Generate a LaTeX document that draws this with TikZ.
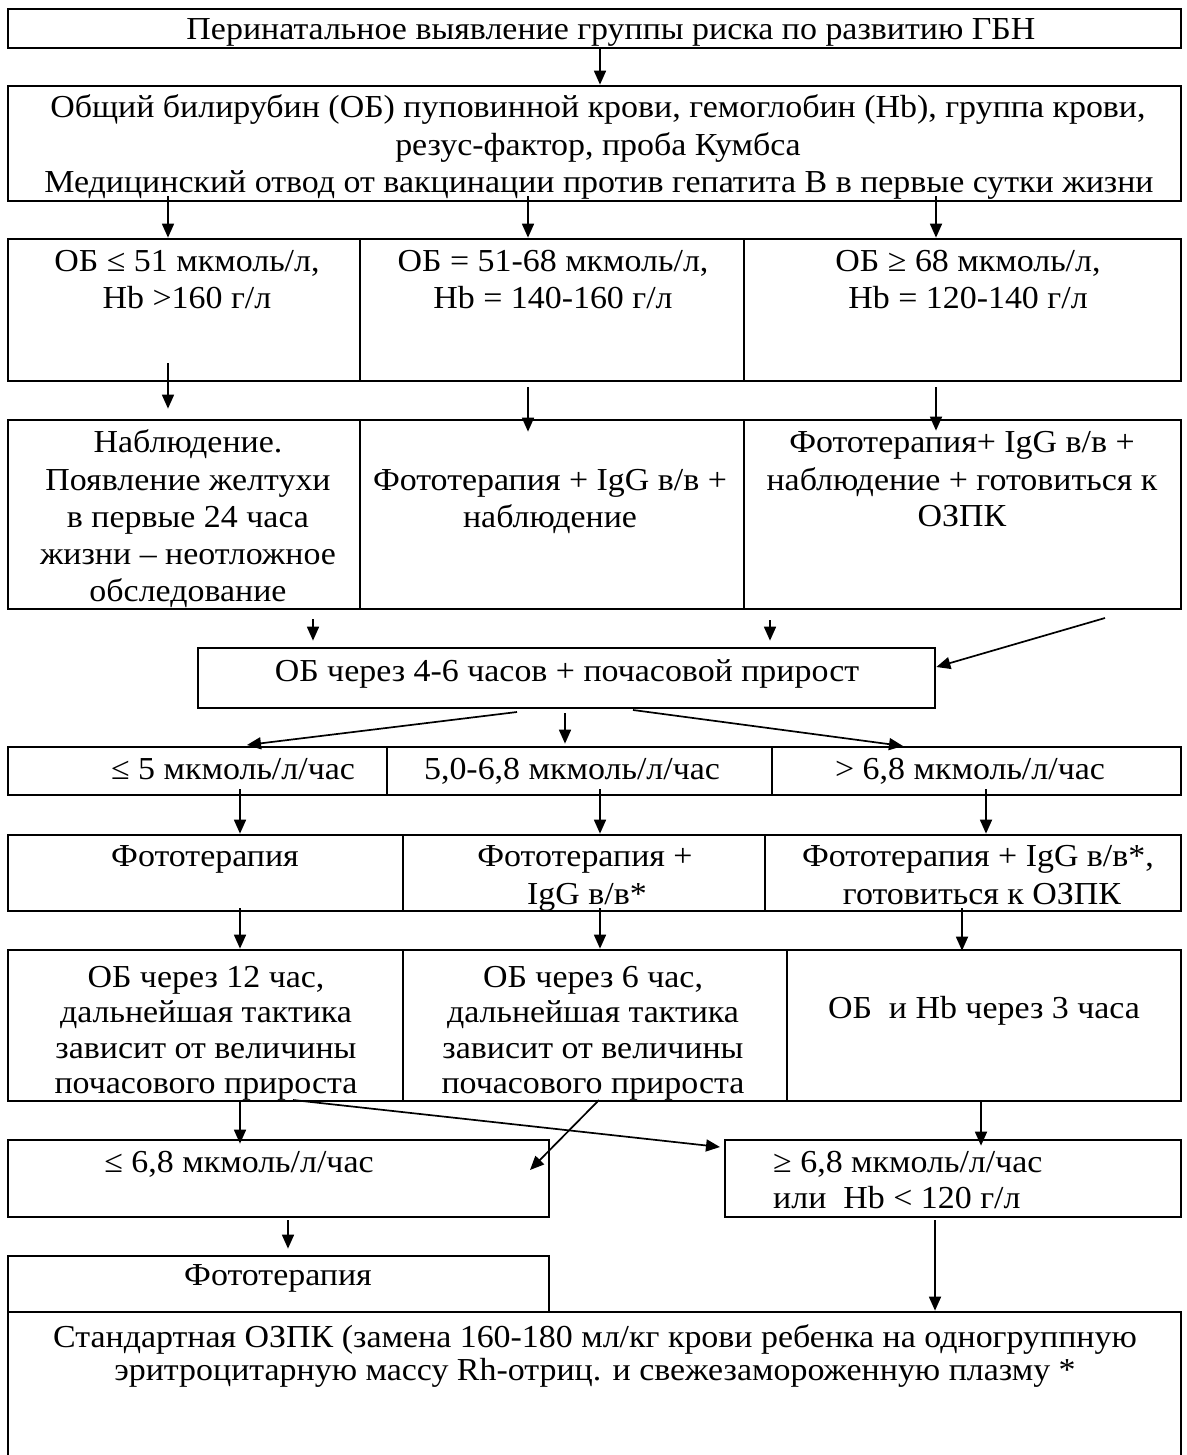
\documentclass[tikz,border=0pt]{standalone}
\usepackage{fontspec}
\setmainfont{Liberation Serif}[FakeStretch=1.06]
\usetikzlibrary{arrows.meta,fit}
\tikzset{
  boxc/.style={draw, line width=2.7pt, inner sep=0pt},
  txt/.style={anchor=base, inner sep=0pt, font=\fontsize{32}{37}\selectfont},
  txtl/.style={txt, anchor=base west},
  arr/.style={line width=1.7pt, -{Triangle[length=14pt,width=12pt]}},
}
\newcommand\mkbox[5]{%
  \path (#2,#3) coordinate (#1-nw) (#4,#5) coordinate (#1-se);
  \node[boxc, fit=(#1-nw)(#1-se)] (#1) {};}
\begin{document}
\begin{tikzpicture}[x=1pt,y=-1pt]
\useasboundingbox (0,0) rectangle (1186,1455);
\clip (0,0) rectangle (1186,1455);
% boxes
\mkbox{top}{8}{9}{1181}{48}
\mkbox{b2}{8}{86}{1181}{201}
\mkbox{r3a}{8}{239}{360}{381}
\mkbox{r3b}{360}{239}{744}{381}
\mkbox{r3c}{744}{239}{1181}{381}
\mkbox{r4a}{8}{420}{360}{609}
\mkbox{r4b}{360}{420}{744}{609}
\mkbox{r4c}{744}{420}{1181}{609}
\mkbox{b5}{198}{648}{935}{708}
\mkbox{r5a}{8}{747}{387}{795}
\mkbox{r5b}{387}{747}{772}{795}
\mkbox{r5c}{772}{747}{1181}{795}
\mkbox{r6a}{8}{835}{403}{911}
\mkbox{r6b}{403}{835}{765}{911}
\mkbox{r6c}{765}{835}{1181}{911}
\mkbox{r7a}{8}{950}{403}{1101}
\mkbox{r7b}{403}{950}{787}{1101}
\mkbox{r7c}{787}{950}{1181}{1101}
\mkbox{b8a}{8}{1140}{549}{1217}
\mkbox{b8b}{725}{1140}{1181}{1217}
\mkbox{b9}{8}{1256}{549}{1312}
\mkbox{b10}{8}{1312}{1181}{1490}
% texts
\node[txt] (t1) at (611,40) {Перинатальное выявление группы риска по развитию ГБН};
\node[txt] (t2a) at (598,118) {Общий билирубин (ОБ) пуповинной крови, гемоглобин (Hb), группа крови,};
\node[txt] (t2b) at (598,156) {резус-фактор, проба Кумбса};
\node[txt] (t2c) at (599,193) {Медицинский отвод от вакцинации против гепатита В в первые сутки жизни};
\node[txt] (t3a1) at (187,272) {ОБ ≤ 51 мкмоль/л,};
\node[txt] (t3a2) at (187,308) {Hb >160 г/л};
\node[txt] (t3b1) at (553,272) {ОБ = 51-68 мкмоль/л,};
\node[txt] (t3b2) at (553,308) {Hb = 140-160 г/л};
\node[txt] (t3c1) at (968,272) {ОБ ≥ 68 мкмоль/л,};
\node[txt] (t3c2) at (968,308) {Hb = 120-140 г/л};
\node[txt] (t4a1) at (188,452) {Наблюдение.};
\node[txt] (t4a2) at (188,490) {Появление желтухи};
\node[txt] (t4a3) at (188,527) {в первые 24 часа};
\node[txt] (t4a4) at (188,564) {жизни – неотложное};
\node[txt] (t4a5) at (188,601) {обследование};
\node[txt] (t4b1) at (550,490) {Фототерапия + IgG в/в +};
\node[txt] (t4b2) at (550,527) {наблюдение};
\node[txt] (t4c1) at (962,452) {Фототерапия+ IgG в/в +};
\node[txt] (t4c2) at (962,490) {наблюдение + готовиться к};
\node[txt] (t4c3) at (962,526) {ОЗПК};
\node[txt] (t5) at (567,681) {ОБ через 4-6 часов + почасовой прирост};
\node[txt] (t6a) at (233,779) {≤ 5 мкмоль/л/час};
\node[txt] (t6b) at (572,779) {5,0-6,8 мкмоль/л/час};
\node[txt] (t6c) at (970,779) {> 6,8 мкмоль/л/час};
\node[txt] (t7a) at (205,866) {Фототерапия};
\node[txt] (t7b1) at (585,866) {Фототерапия +};
\node[txt] (t7b2) at (587,904) {IgG в/в*};
\node[txt] (t7c1) at (978,866) {Фототерапия + IgG в/в*,};
\node[txt] (t7c2) at (982,904) {готовиться к ОЗПК};
\node[txt] (t8a1) at (206,987) {ОБ через 12 час,};
\node[txt] (t8a2) at (206,1022) {дальнейшая тактика};
\node[txt] (t8a3) at (206,1058) {зависит от величины};
\node[txt] (t8a4) at (206,1093) {почасового прироста};
\node[txt] (t8b1) at (593,987) {ОБ через 6 час,};
\node[txt] (t8b2) at (593,1022) {дальнейшая тактика};
\node[txt] (t8b3) at (593,1058) {зависит от величины};
\node[txt] (t8b4) at (593,1093) {почасового прироста};
\node[txt] (t8c) at (984,1018) {ОБ\ \ и Hb через 3 часа};
\node[txt] (t9a) at (239,1172) {≤ 6,8 мкмоль/л/час};
\node[txtl] (t9b1) at (773,1172) {≥ 6,8 мкмоль/л/час};
\node[txtl] (t9b2) at (773,1208) {или\ \ Hb < 120 г/л};
\node[txt] (t10) at (278,1285) {Фототерапия};
\node[txt] (t11a) at (595,1347) {Стандартная ОЗПК (замена 160-180 мл/кг крови ребенка на одногруппную};
\node[txt] (t11b) at (595,1380) {эритроцитарную массу Rh-отриц. и свежезамороженную плазму *};
% x guides
\foreach \n/\xx in {k600/600,k168/168,k528/528,k936/936,k313/313,k770/770,k565/565,k240/240,k986/986,k962/962,k981/981,k288/288,k935/935}
  \coordinate (\n) at (\xx,0);
% free ends
\coordinate (d1s) at (1105,618);
\coordinate (d2s) at (517,712);
\coordinate (d2e) at (247,745);
\coordinate (d3s) at (633,710);
\coordinate (d3e) at (903,746);
\coordinate (d4s) at (293,1100);
\coordinate (d4e) at (720,1147);
\coordinate (d5s) at (599,1100);
\coordinate (d5e) at (530,1170);
% connectors
\draw[arr] (top.south -| k600) -- (b2.north -| k600);
\draw[arr] ([yshift=6pt]b2.south -| k168) -- (r3a.north -| k168);
\draw[arr] ([yshift=6pt]b2.south -| k528) -- (r3b.north -| k528);
\draw[arr] ([yshift=6pt]b2.south -| k936) -- (r3c.north -| k936);
\draw[arr] ([yshift=19pt]r3a.south -| k168) -- ([yshift=10pt]r4a.north -| k168);
\draw[arr] ([yshift=-5pt]r3b.south -| k528) -- ([yshift=-13pt]r4b.north -| k528);
\draw[arr] ([yshift=-5pt]r3c.south -| k936) -- ([yshift=-12pt]r4c.north -| k936);
\draw[arr] ([yshift=-9pt]r4a.south -| k313) -- ([yshift=6pt]b5.north -| k313);
\draw[arr] ([yshift=-10pt]r4c.south -| k770) -- ([yshift=6pt]b5.north -| k770);
\draw[arr] (d1s) -- ([yshift=11pt]b5.east);
\draw[arr] (d2s) -- (d2e);
\draw[arr] ([yshift=-4pt]b5.south -| k565) -- ([yshift=2pt]r5b.north -| k565);
\draw[arr] (d3s) -- (d3e);
\draw[arr] ([yshift=7pt]r5a.south -| k240) -- (r6a.north -| k240);
\draw[arr] ([yshift=7pt]r5b.south -| k600) -- (r6b.north -| k600);
\draw[arr] ([yshift=7pt]r5c.south -| k986) -- (r6c.north -| k986);
\draw[arr] ([yshift=4pt]r6a.south -| k240) -- (r7a.north -| k240);
\draw[arr] ([yshift=4pt]r6b.south -| k600) -- (r7b.north -| k600);
\draw[arr] ([yshift=4pt]r6c.south -| k962) -- ([yshift=-2pt]r7c.north -| k962);
\draw[arr] (r7a.south -| k240) -- ([yshift=-5pt]b8a.north -| k240);
\draw[arr] (d4s) -- (d4e);
\draw[arr] (d5s) -- (d5e);
\draw[arr] (r7c.south -| k981) -- ([yshift=-7pt]b8b.north -| k981);
\draw[arr] ([yshift=-2pt]b8a.south -| k288) -- ([yshift=6pt]b9.north -| k288);
\draw[arr] ([yshift=-2pt]b8b.south -| k935) -- (b10.north -| k935);
\end{tikzpicture}
\end{document}
